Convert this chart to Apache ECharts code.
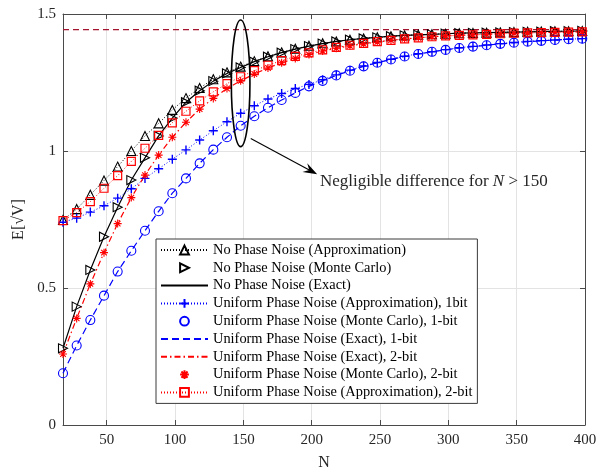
<!DOCTYPE html>
<html>
<head>
<meta charset="utf-8">
<script src="https://cdn.jsdelivr.net/npm/echarts@6/dist/echarts.min.js"></script>
<style>html,body{margin:0;padding:0;background:#fff}#c{width:602px;height:468px}</style>
</head>
<body>
<div id="c"></div>
<script>
// ---- data ----
const N = [18,28,38,48,58,68,78,88,98,108,118,128,138,148,158,168,178,188,198,208,218,228,238,248,258,268,278,288,298,308,318,328,338,348,358,368,378,388,398];
const xTicks = [50,100,150,200,250,300,350,400];
const noPN_approx = [0.748,0.788,0.840,0.892,0.943,1.000,1.055,1.101,1.150,1.193,1.230,1.262,1.287,1.308,1.328,1.346,1.360,1.373,1.384,1.393,1.400,1.406,1.411,1.415,1.419,1.422,1.424,1.426,1.428,1.430,1.431,1.432,1.433,1.434,1.435,1.436,1.437,1.437,1.438];
const noPN_mc = [0.280,0.432,0.566,0.687,0.795,0.894,0.975,1.055,1.120,1.178,1.220,1.255,1.283,1.305,1.326,1.344,1.359,1.372,1.383,1.392,1.400,1.406,1.411,1.415,1.419,1.422,1.424,1.426,1.428,1.430,1.431,1.432,1.433,1.434,1.435,1.436,1.437,1.437,1.438];
const noPN_exact = [0.280,0.432,0.566,0.687,0.795,0.894,0.975,1.055,1.120,1.178,1.220,1.255,1.283,1.305,1.326,1.344,1.359,1.372,1.383,1.392,1.400,1.406,1.411,1.415,1.419,1.422,1.424,1.426,1.428,1.430,1.431,1.432,1.433,1.434,1.435,1.436,1.437,1.437,1.438];
const u1_approx = [0.740,0.755,0.777,0.800,0.828,0.862,0.900,0.935,0.970,1.004,1.040,1.074,1.107,1.138,1.165,1.190,1.210,1.228,1.243,1.260,1.278,1.295,1.310,1.323,1.335,1.346,1.355,1.362,1.370,1.377,1.382,1.387,1.392,1.396,1.400,1.403,1.405,1.408,1.410];
const u1_mc = [0.189,0.290,0.383,0.472,0.560,0.636,0.709,0.780,0.846,0.900,0.955,1.005,1.050,1.092,1.127,1.158,1.186,1.212,1.236,1.256,1.276,1.293,1.309,1.322,1.334,1.345,1.354,1.362,1.369,1.376,1.381,1.386,1.391,1.395,1.399,1.402,1.405,1.408,1.410];
const u1_exact = [0.189,0.290,0.383,0.472,0.560,0.636,0.709,0.780,0.846,0.900,0.955,1.005,1.050,1.092,1.127,1.158,1.186,1.212,1.236,1.256,1.276,1.293,1.309,1.322,1.334,1.345,1.354,1.362,1.369,1.376,1.381,1.386,1.391,1.395,1.399,1.402,1.405,1.408,1.410];
const u2_exact = [0.259,0.389,0.515,0.629,0.735,0.830,0.912,0.985,1.050,1.105,1.153,1.192,1.228,1.256,1.281,1.303,1.322,1.338,1.352,1.365,1.375,1.384,1.391,1.398,1.404,1.409,1.413,1.417,1.420,1.422,1.424,1.426,1.428,1.430,1.431,1.432,1.433,1.434,1.435];
const u2_mc = [0.259,0.389,0.515,0.629,0.735,0.830,0.912,0.985,1.050,1.105,1.153,1.192,1.228,1.256,1.281,1.303,1.322,1.338,1.352,1.365,1.375,1.384,1.391,1.398,1.404,1.409,1.413,1.417,1.420,1.422,1.424,1.426,1.428,1.430,1.431,1.432,1.433,1.434,1.435];
const u2_approx = [0.746,0.775,0.815,0.864,0.910,0.962,1.010,1.057,1.103,1.145,1.183,1.216,1.246,1.271,1.293,1.313,1.330,1.345,1.358,1.369,1.378,1.386,1.393,1.399,1.404,1.409,1.413,1.417,1.420,1.422,1.424,1.426,1.428,1.430,1.431,1.432,1.433,1.434,1.435];
const limitValue = 1.443;
const xRange = [18, 400];
const names = [
  'No Phase Noise (Approximation)',
  'No Phase Noise (Monte Carlo)',
  'No Phase Noise (Exact)',
  'Uniform Phase Noise (Approximation), 1bit',
  'Uniform Phase Noise (Monte Carlo), 1-bit',
  'Uniform Phase Noise (Exact), 1-bit',
  'Uniform Phase Noise (Exact), 2-bit',
  'Uniform Phase Noise (Monte Carlo), 2-bit',
  'Uniform Phase Noise (Approximation), 2-bit'
];
const annotationText = 'Negligible difference for ';

// ---- styling ----
const FONT = '"Liberation Serif","Times New Roman",serif';
const AX = '#4a4a4a';
const BLACK = '#000000', BLUE = '#0000ff', RED = '#ff0000', DARKRED = '#a2142f';
const PLUS = 'path://M0,-1L0,1M-1,0L1,0';
const STAR = 'path://M0,-1L0,1M-1,0L1,0M-0.7,-0.7L0.7,0.7M-0.7,0.7L0.7,-0.7';

const pair = ys => N.map((n, i) => [n, ys[i]]);

function markSeries(name, ys, color, lineType, lineWidth, symbol, size, rotate, fill, bw) {
  return {
    name, type: 'line', data: pair(ys),
    symbol: symbol, symbolSize: size, symbolRotate: rotate || 0,
    showSymbol: true,
    lineStyle: { color: color, width: lineWidth, type: lineType, opacity: lineWidth > 0 ? 1 : 0 },
    itemStyle: { color: fill, borderColor: color, borderWidth: bw || 1 },
    emphasis: { disabled: true }, z: 3
  };
}
function plainLine(name, ys, color, lineType, width) {
  return {
    name, type: 'line', data: pair(ys),
    symbol: 'circle', symbolSize: 0, showSymbol: false,
    lineStyle: { color: color, width: width, type: lineType },
    itemStyle: { color: 'transparent', borderColor: 'transparent', borderWidth: 0 },
    emphasis: { disabled: true }, z: 3
  };
}

const series = [
  markSeries(names[0], noPN_approx, BLACK, [1, 2], 1, 'triangle', 9, 0, 'transparent', 1.1),
  markSeries(names[1], noPN_mc, BLACK, 'solid', 0, 'triangle', 9, -90, 'transparent', 1.1),
  plainLine(names[2], noPN_exact, BLACK, 'solid', 1.2),
  markSeries(names[3], u1_approx, BLUE, [1, 2], 1, PLUS, 9, 0, BLUE, 1.4),
  markSeries(names[4], u1_mc, BLUE, 'solid', 0, 'circle', 9, 0, 'transparent', 1.1),
  plainLine(names[5], u1_exact, BLUE, [7, 4], 1.2),
  plainLine(names[6], u2_exact, RED, [6, 3, 1.5, 3], 1.2),
  markSeries(names[7], u2_mc, RED, 'solid', 0, STAR, 8, 0, RED, 1.1),
  markSeries(names[8], u2_approx, RED, [1, 2], 1, 'rect', 8, 0, 'transparent', 1.2),
  {
    name: 'limit', type: 'line', data: xRange.map(x => [x, limitValue]),
    symbol: 'none', lineStyle: { color: DARKRED, width: 1.2, type: [6, 4] },
    emphasis: { disabled: true }, z: 2
  }
];

const chart = echarts.init(document.getElementById('c'), null, { renderer: 'canvas' });
chart.setOption({
  animation: false,
  backgroundColor: '#fff',
  grid: { left: 63, top: 14, width: 522, height: 411, containLabel: false, outerBoundsMode: 'none' },
  xAxis: [{
    type: 'value', min: xRange[0], max: xRange[1], position: 'bottom',
    name: 'N', nameLocation: 'middle', nameGap: 30,
    nameTextStyle: { fontFamily: FONT, fontSize: 16, color: '#262626' },
    axisLine: { show: true, onZero: false, lineStyle: { color: AX, width: 1 } },
    axisTick: { show: true, inside: true, length: 5, customValues: xTicks, lineStyle: { color: AX } },
    axisLabel: { customValues: xTicks, fontFamily: FONT, fontSize: 15, color: '#262626', margin: 8 },
    splitLine: { show: true, lineStyle: { color: '#e3e3e3', width: 1 } }
  }, {
    type: 'value', min: xRange[0], max: xRange[1], position: 'top',
    axisLine: { show: true, onZero: false, lineStyle: { color: AX, width: 1 } },
    axisTick: { show: true, inside: true, length: 5, customValues: xTicks, lineStyle: { color: AX } },
    axisLabel: { show: false }, splitLine: { show: false }
  }],
  yAxis: [{
    type: 'value', min: 0, max: 1.5, interval: 0.5, position: 'left',
    name: 'E[\u221AV]', nameLocation: 'middle', nameGap: 33,
    nameTextStyle: { fontFamily: FONT, fontSize: 16, color: '#262626' },
    axisLine: { show: true, onZero: false, lineStyle: { color: AX, width: 1 } },
    axisTick: { show: true, inside: true, length: 5, lineStyle: { color: AX } },
    axisLabel: { fontFamily: FONT, fontSize: 15, color: '#262626', margin: 7 },
    splitLine: { show: true, lineStyle: { color: '#e3e3e3', width: 1 } }
  }, {
    type: 'value', min: 0, max: 1.5, interval: 0.5, position: 'right',
    axisLine: { show: true, onZero: false, lineStyle: { color: AX, width: 1 } },
    axisTick: { show: true, inside: true, length: 5, lineStyle: { color: AX } },
    axisLabel: { show: false }, splitLine: { show: false }
  }],
  legend: {
    data: names, orient: 'vertical', left: 156, top: 239,
    itemWidth: 47, itemHeight: 11, itemGap: 3.8,
    padding: [4, 5, 4, 4],
    backgroundColor: '#fff', borderColor: '#3a3a3a', borderWidth: 1,
    textStyle: { fontFamily: FONT, fontSize: 14.4, color: '#000', lineHeight: 14 },
    selectedMode: false, inactiveColor: '#000'
  },
  series: series
});

// ---- annotations (ellipse, arrow, text) ----
function px(x, y) { return chart.convertToPixel({ gridIndex: 0 }, [x, y]); }
const ellC = px(148, 1.247);
const ellTop = px(148, 1.478), ellBot = px(148, 1.016);
const aS = px(155.4, 1.046), aT = px(204, 0.915);
const tP = px(206, 0.887);
const dx = aT[0] - aS[0], dy = aT[1] - aS[1], L = Math.hypot(dx, dy);
const ux = dx / L, uy = dy / L, vx = -uy, vy = ux;
const hl = 14, hw = 5, notch = 9;
const head = [
  [aT[0], aT[1]],
  [aT[0] - hl * ux + hw * vx, aT[1] - hl * uy + hw * vy],
  [aT[0] - notch * ux, aT[1] - notch * uy],
  [aT[0] - hl * ux - hw * vx, aT[1] - hl * uy - hw * vy]
];
chart.setOption({
  graphic: [
    { type: 'ellipse', shape: { cx: ellC[0], cy: ellC[1], rx: 9.3, ry: (ellBot[1] - ellTop[1]) / 2 },
      style: { fill: 'none', stroke: '#000', lineWidth: 1.6 }, z: 100 },
    { type: 'line', shape: { x1: aS[0], y1: aS[1], x2: aT[0] - notch * ux, y2: aT[1] - notch * uy },
      style: { stroke: '#000', lineWidth: 1.1 }, z: 100 },
    { type: 'polygon', shape: { points: head }, style: { fill: '#000' }, z: 100 },
    { type: 'text', x: tP[0], y: tP[1], z: 100,
      style: {
        text: '{a|' + annotationText + '}{i|N}{a| > 150}',
        verticalAlign: 'middle', align: 'left',
        rich: {
          a: { fontFamily: FONT, fontSize: 17, fill: '#262626' },
          i: { fontFamily: FONT, fontSize: 17, fontStyle: 'italic', fill: '#262626' }
        }
      } }
  ]
});
</script>
</body>
</html>
